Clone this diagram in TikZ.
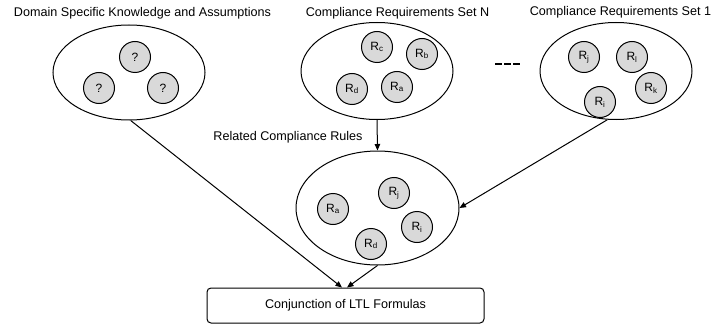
\documentclass[tikz,border=0pt]{standalone}
\usepackage{fontspec}
\setmainfont{Liberation Sans}
\usetikzlibrary{shapes.geometric,arrows.meta}
\tikzset{
  title/.style={font=\fontsize{12.6}{15}\selectfont, inner sep=0pt},
  setell/.style={ellipse, draw, line width=1pt, inner sep=0pt},
  rule/.style={circle, draw, line width=1pt, fill=gray!30, minimum size=31pt, inner sep=0pt, font=\fontsize{12}{14}\selectfont},
  conn/.style={line width=1pt, -{Triangle[length=6.5pt,width=5.5pt]}},
  box/.style={draw, line width=1pt, rounded corners=4pt, minimum width=277pt, minimum height=35pt, inner sep=0pt, font=\fontsize{12.6}{15}\selectfont}
}
\begin{document}
\begin{tikzpicture}[x=1pt,y=-1pt]
\useasboundingbox (0,0) rectangle (714,326);
% titles
\node[title] (t1) at (142.5,13) {Domain Specific Knowledge and Assumptions};
\node[title] (tN) at (397.5,13) {Compliance Requirements Set N};
\node[title] (tS1) at (620.5,12.5) {Compliance Requirements Set 1};
% ellipses
\node[setell, minimum width=152pt, minimum height=95pt] (e1) at (129,72.5) {};
\node[setell, minimum width=152pt, minimum height=97pt] (eN) at (377,71) {};
\node[setell, minimum width=152pt, minimum height=97pt] (eS) at (616,71) {};
\node[setell, minimum width=163pt, minimum height=114pt] (mid) at (377.5,208) {};
% domain circles
\node[rule] (q1) at (135,57) {?};
\node[rule] (q2) at (99,88) {?};
\node[rule] (q3) at (163,88) {?};
% set N circles
\node[rule] (nc) at (377,47) {R\textsubscript{c}};
\node[rule] (nb) at (422,54) {R\textsubscript{b}};
\node[rule] (nd) at (352,89) {R\textsubscript{d}};
\node[rule] (na) at (397,87) {R\textsubscript{a}};
% set 1 circles
\node[rule] (sj) at (584,57) {R\textsubscript{j}};
\node[rule] (sl) at (632,57) {R\textsubscript{l}};
\node[rule] (sk) at (651,88) {R\textsubscript{k}};
\node[rule] (si) at (600,102) {R\textsubscript{i}};
% mid circles
\node[rule] (ma) at (333,209) {R\textsubscript{a}};
\node[rule] (mj) at (394,193) {R\textsubscript{j}};
\node[rule] (mi) at (417,227) {R\textsubscript{i}};
\node[rule] (md) at (371,244) {R\textsubscript{d}};
% dashes
\draw[line width=2pt, dash pattern=on 6.5pt off 2.5pt] (495,64) -- (519.5,64);
% label
\node[title] (rel) at (288,137) {Related Compliance Rules};
% box
\node[box] (ltl) at (345.5,305.5) {Conjunction of LTL Formulas};
% connectors
\draw[conn] (eN.south) -- (mid.north);
\draw[conn] (eS.-100) -- (mid.east);
\draw[conn] (e1.-88) -- ([xshift=-3.5pt]ltl.north);
\draw[conn] (mid.south) -- ([xshift=1.5pt]ltl.north);
\end{tikzpicture}
\end{document}
